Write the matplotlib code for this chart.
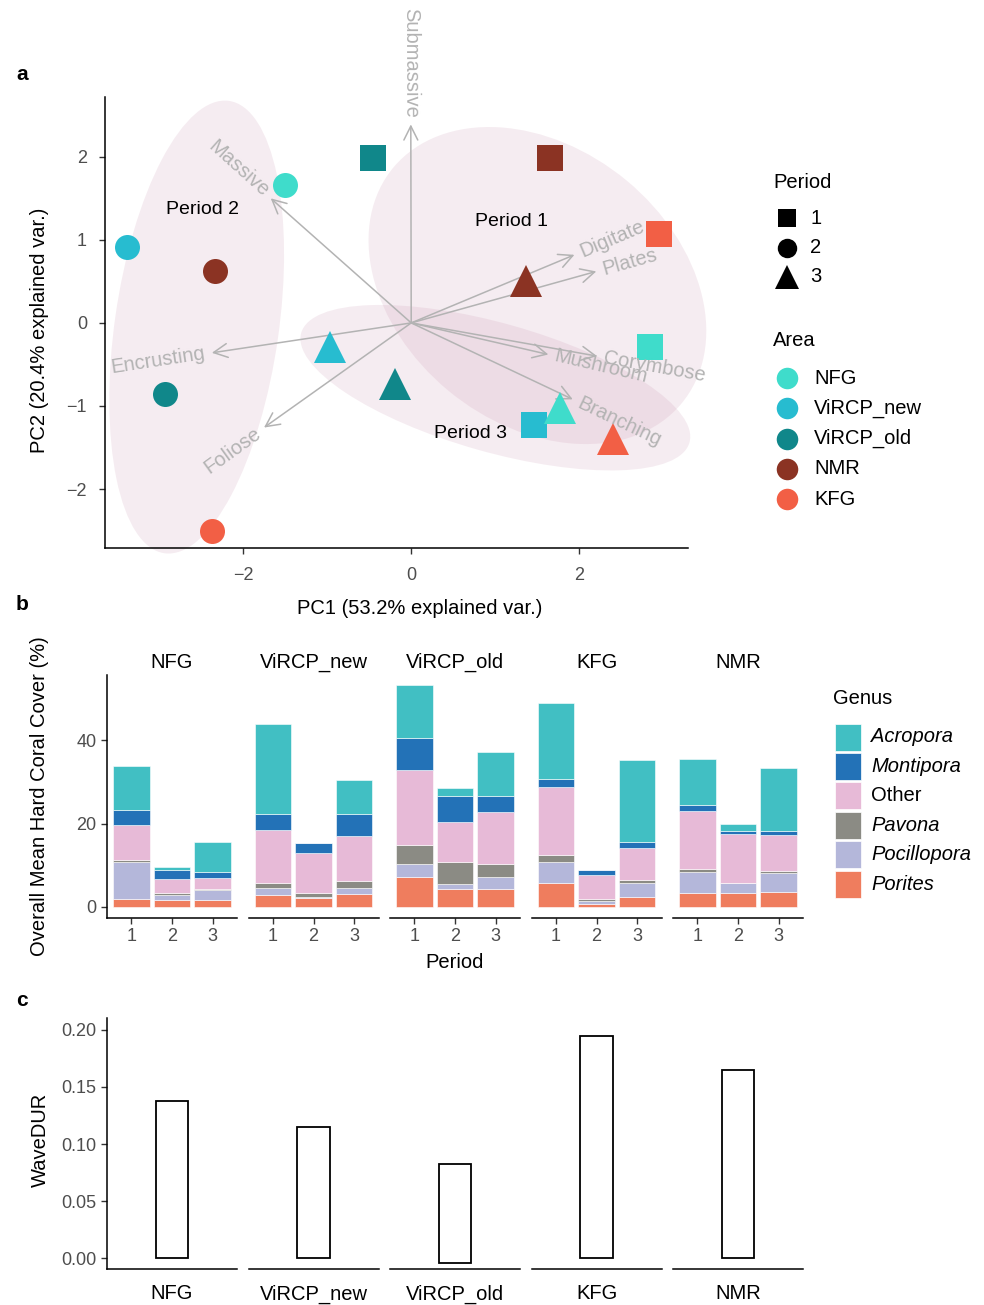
import numpy as np
import matplotlib
matplotlib.use("Agg")
import matplotlib.pyplot as plt
from matplotlib.patches import Ellipse

plt.rcParams['font.family'] = ['Liberation Sans', 'DejaVu Sans']

W, H = 984, 1305

# ---------------- data ----------------
# panel a: PCA scores
pt_area = ['NFG', 'ViRCP_new', 'NMR', 'ViRCP_old', 'KFG',
           'ViRCP_old', 'NMR', 'KFG', 'NFG', 'ViRCP_new',
           'NMR', 'ViRCP_new', 'ViRCP_old', 'NFG', 'KFG']
pt_period = [2, 2, 2, 2, 2, 1, 1, 1, 1, 1, 3, 3, 3, 3, 3]
pc1 = [-1.50, -3.38, -2.33, -2.93, -2.37, -0.46, 1.65, 2.95, 2.84, 1.46,
       1.37, -0.96, -0.19, 1.77, 2.40]
pc2 = [1.66, 0.92, 0.62, -0.85, -2.50, 1.99, 1.99, 1.07, -0.29, -1.23,
       0.50, -0.29, -0.74, -1.03, -1.40]

# loadings (arrow tips)
var_names = ['Submassive', 'Massive', 'Digitate', 'Plates', 'Mushroom',
             'Corymbose', 'Branching', 'Encrusting', 'Foliose']
var_x = [-0.005, -1.67, 1.94, 2.20, 1.63, 2.21, 1.92, -2.37, -1.75]
var_y = [2.39, 1.50, 0.82, 0.62, -0.38, -0.40, -0.92, -0.36, -1.26]

# ellipses per period: centre x, centre y, width, height, angle
ell_label = ['Period 1', 'Period 2', 'Period 3']
ell_cx = [1.50, -2.55, 1.00]
ell_cy = [0.45, -0.05, -0.78]
ell_w = [4.45, 1.95, 4.8]
ell_h = [3.3, 5.5, 1.55]
ell_ang = [-40, -8, -16]
ell_text_x = [1.19, -2.48, 0.70]
ell_text_y = [1.22, 1.36, -1.33]

areas = ['NFG', 'ViRCP_new', 'ViRCP_old', 'NMR', 'KFG']
area_colors = ['#3fdccb', '#27bcd0', '#10878a', '#8b3323', '#f25f45']
periods = [1, 2, 3]
period_markers = ['s', 'o', '^']

# panel b: stacked cover (%), sites x periods 1..3
sites = ['NFG', 'ViRCP_new', 'ViRCP_old', 'KFG', 'NMR']
genera = ['Porites', 'Pocillopora', 'Pavona', 'Other', 'Montipora', 'Acropora']
porites = [[1.8, 1.7, 1.6], [2.8, 2.2, 3.2], [7.2, 4.4, 4.4], [5.8, 0.8, 2.3], [3.4, 3.4, 3.7]]
pocillopora = [[9.0, 1.2, 2.5], [1.8, 0.2, 1.4], [3.1, 1.1, 2.7], [5.0, 0.7, 3.4], [4.9, 2.3, 4.4]]
pavona = [[0.4, 0.4, 0.2], [1.2, 1.0, 1.6], [4.6, 5.2, 3.1], [1.7, 0.4, 0.8], [0.9, 0.0, 0.6]]
other = [[8.6, 3.4, 2.7], [12.6, 9.6, 10.9], [18.1, 9.6, 12.5], [16.2, 5.8, 7.7], [13.8, 11.8, 8.5]]
montipora = [[3.6, 2.2, 1.3], [3.9, 2.4, 5.3], [7.5, 6.4, 3.9], [2.0, 1.2, 1.5], [1.4, 0.7, 1.1]]
acropora = [[10.5, 0.6, 7.3], [21.7, 0.0, 8.0], [12.8, 1.9, 10.6], [18.2, 0.0, 19.7], [11.1, 1.7, 15.1]]
genus_values = [porites, pocillopora, pavona, other, montipora, acropora]
genus_colors = ['#ef7d5e', '#b4b7da', '#8b8b84', '#e7bad7', '#2372b7', '#41bfc3']
legend_genera = ['Acropora', 'Montipora', 'Other', 'Pavona', 'Pocillopora', 'Porites']

# panel c: WaveDUR
wave_top = [0.138, 0.115, 0.0825, 0.195, 0.165]
wave_bottom = [0.0, 0.0, -0.004, 0.0, 0.0]

# ---------------- figure ----------------
fig = plt.figure(figsize=(W / 100, H / 100), dpi=100)

def rect(x0, y0, x1, y1):
    return [x0 / W, 1 - y1 / H, (x1 - x0) / W, (y1 - y0) / H]

TICKC = '#4d4d4d'
FS = 14.5
TFS = 13

def style(ax, left=True):
    for s in ['top', 'right']:
        ax.spines[s].set_visible(False)
    ax.spines['bottom'].set_linewidth(1.1)
    ax.spines['left'].set_linewidth(1.1)
    if not left:
        ax.spines['left'].set_visible(False)
        ax.tick_params(axis='y', left=False, labelleft=False)
    ax.tick_params(labelsize=TFS, colors='#333333', labelcolor=TICKC, length=4, width=1)

# ---- panel a ----
ax = fig.add_axes(rect(105, 97, 688, 548))
style(ax)
ax.tick_params(axis='x', pad=10)
ax.tick_params(axis='y', pad=9)
ax.set_xlim(-3.64, 3.29)
ax.set_ylim(-2.71, 2.72)
ax.set_xticks([-2, 0, 2])
ax.set_yticks([-2, -1, 0, 1, 2])

for i in range(3):
    e = Ellipse((ell_cx[i], ell_cy[i]), ell_w[i], ell_h[i], angle=ell_ang[i],
                facecolor='#c890ad', alpha=0.17, edgecolor='none', zorder=1,
                clip_on=False)
    ax.add_patch(e)
    ax.text(ell_text_x[i], ell_text_y[i], ell_label[i], fontsize=14, ha='center',
            va='center', zorder=5)

grey = '#b3b3b3'
for name, vx, vy in zip(var_names, var_x, var_y):
    ax.annotate('', xy=(vx, vy), xytext=(0, 0),
                arrowprops=dict(arrowstyle='->,head_length=0.5,head_width=0.25',
                                color=grey, lw=1.1, mutation_scale=20,
                                shrinkA=0, shrinkB=0), zorder=2)
    ang = np.degrees(np.arctan(vy / vx))
    d = np.hypot(vx, vy)
    off = 0.08
    tx, ty = vx + off * vx / d, vy + off * vy / d
    ax.text(tx, ty, name, rotation=ang, rotation_mode='anchor',
            ha='left' if vx > 0 else 'right', va='center', color=grey,
            fontsize=FS, zorder=4)

msize = {1: 18.5, 2: 18, 3: 23}
for a, p, x, y in zip(pt_area, pt_period, pc1, pc2):
    ax.plot(x, y, marker=period_markers[p - 1], ms=msize[p], mew=0,
            color=area_colors[areas.index(a)], ls='none', zorder=3)

fig.text(420 / W, 1 - 608 / H, 'PC1 (53.2% explained var.)', fontsize=FS,
         ha='center', va='center')
fig.text(40 / W, 1 - 330 / H, 'PC2 (20.4% explained var.)', fontsize=FS,
         rotation=90, ha='center', va='center')

# legends for panel a (drawn in pixel space)
lg = fig.add_axes([0, 0, 1, 1])
lg.set_xlim(0, W)
lg.set_ylim(H, 0)
lg.axis('off')
lg.text(773, 183, 'Period', fontsize=FS, va='center')
leg_ms = {1: 13, 2: 14, 3: 17}
for k, p in enumerate(periods):
    yy = 218 + k * 29.5
    lg.plot(787, yy, marker=period_markers[k], ms=leg_ms[p], color='black', mew=0)
    lg.text(810, yy, str(p), fontsize=FS, va='center')
lg.text(773, 340, 'Area', fontsize=FS, va='center')
for k, a in enumerate(areas):
    yy = 378 + k * 30.3
    lg.plot(787, yy, marker='o', ms=15.5, color=area_colors[k], mew=0)
    lg.text(814, yy, a, fontsize=FS, va='center')

# ---- panel b ----
for i, site in enumerate(sites):
    x0 = 107 + i * 141.5
    bx = fig.add_axes(rect(x0, 675, x0 + 130, 918))
    style(bx, left=(i == 0))
    bx.set_xlim(0.4, 3.6)
    bx.set_ylim(-2.65, 55.7)
    bx.set_xticks([1, 2, 3])
    bx.set_xticklabels(['1', '2', '3'])
    bx.set_yticks([0, 20, 40])
    base = np.zeros(3)
    for g, vals, c in zip(genera, genus_values, genus_colors):
        v = np.array(vals[i])
        bx.bar(periods, v, bottom=base, width=0.9, color=c, edgecolor='white',
               linewidth=0.4)
        base = base + v
    bx.set_title(site, fontsize=FS, pad=5)

fig.text(40 / W, 1 - 796 / H, 'Overall Mean Hard Coral Cover (%)', rotation=90,
         fontsize=FS, ha='center', va='center')
fig.text(455 / W, 1 - 963 / H, 'Period', fontsize=FS, ha='center', va='center')

lg.text(833, 699, 'Genus', fontsize=FS, va='center')
for k, g in enumerate(legend_genera):
    yy = 737 + k * 29.4
    c = genus_colors[genera.index(g)]
    lg.add_patch(plt.Rectangle((835, yy - 13.5), 26, 27, facecolor=c, edgecolor='white', lw=0.5))
    lg.text(871, yy, g, fontsize=FS, va='center',
            style='normal' if g == 'Other' else 'italic')

# ---- panel c ----
for i, site in enumerate(sites):
    x0 = 107 + i * 141.5
    cx = fig.add_axes(rect(x0, 1018, x0 + 130, 1269))
    style(cx, left=(i == 0))
    cx.set_xlim(0.4, 1.6)
    cx.set_ylim(-0.0096, 0.2105)
    cx.set_yticks([0.0, 0.05, 0.10, 0.15, 0.20])
    cx.set_yticklabels(['0.00', '0.05', '0.10', '0.15', '0.20'])
    cx.set_xticks([1])
    cx.set_xticklabels([site])
    cx.tick_params(axis='x', length=0, pad=11, labelsize=FS, labelcolor='black')
    cx.bar(1, wave_top[i] - wave_bottom[i], bottom=wave_bottom[i], width=0.3,
           facecolor='white', edgecolor='black', linewidth=1.3)

fig.text(40 / W, 1 - 1140 / H, 'WaveDUR', rotation=90, fontsize=FS,
         ha='center', va='center')

for lab, yy in [('a', 75), ('b', 605), ('c', 1000)]:
    fig.text(16 / W, 1 - yy / H, lab, fontsize=15, fontweight='bold', va='center')

fig.savefig('out.png', dpi=100)
